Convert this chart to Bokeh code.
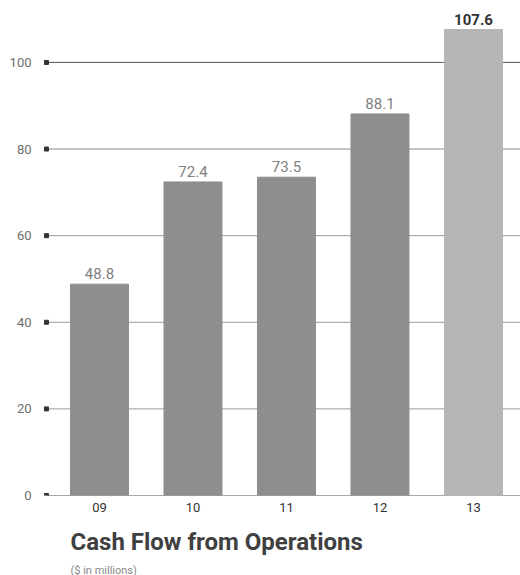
from bokeh.plotting import figure
from bokeh.models import ColumnDataSource, LabelSet, Range1d, FixedTicker, Title
from bokeh.core.properties import value
from bokeh.embed import file_html
from bokeh.resources import INLINE

# Cash flow from operations, $ millions, fiscal years 09-13
years = ["09", "10", "11", "12", "13"]
cash_flow = [48.8, 72.4, 73.5, 88.1, 107.6]
bar_colors = ["#8e8e8e", "#8e8e8e", "#8e8e8e", "#8e8e8e", "#b6b6b6"]
label_colors = ["#808080", "#808080", "#808080", "#808080", "#333333"]
label_styles = ["normal", "normal", "normal", "normal", "bold"]
y_ticks = [0, 20, 40, 60, 80, 100]

xs = list(range(len(years)))
src = ColumnDataSource(dict(
    x=xs, top=cash_flow, color=bar_colors,
    label=[f"{v:.1f}" for v in cash_flow],
    lcolor=label_colors, lstyle=label_styles,
))

p = figure(width=520, height=575, output_backend="svg", toolbar_location=None,
           x_range=Range1d(-0.652, 4.503), y_range=Range1d(0, 114.3),
           min_border_left=38, min_border_right=0, min_border_top=0,
           min_border_bottom=80)
p.outline_line_color = None
p.grid.visible = False
p.background_fill_color = "white"
p.border_fill_color = "white"

# horizontal rules starting at the small square markers
marker_x = -0.567
grid_colors = ["#555555", "#9a9a9a", "#9a9a9a", "#9a9a9a", "#8a8a8a", "#555555"]
p.segment(x0=[marker_x] * len(y_ticks), x1=[4.6] * len(y_ticks),
          y0=y_ticks, y1=y_ticks, line_color=grid_colors, line_width=1)
p.scatter(x=[marker_x] * len(y_ticks), y=y_ticks, marker="square", size=4,
          color="#333333")

p.vbar(x="x", top="top", width=0.62, bottom=0, color="color", source=src)

p.add_layout(LabelSet(x="x", y="top", text="label", source=src,
                      text_align="center", text_baseline="bottom", y_offset=5,
                      text_font_size=value("15px"), text_color="lcolor",
                      text_font_style="lstyle", text_font=value("Roboto")))

# axes
p.xaxis.ticker = FixedTicker(ticks=xs)
p.xaxis.major_label_overrides = {i: y for i, y in enumerate(years)}
p.xaxis.axis_line_color = None
p.xaxis.major_tick_line_color = None
p.xaxis.minor_tick_line_color = None
p.xaxis.major_label_standoff = 1
p.xaxis.major_label_text_font = "Roboto"
p.xaxis.major_label_text_font_size = "13px"
p.xaxis.major_label_text_color = "#333333"

p.yaxis.ticker = FixedTicker(ticks=y_ticks)
p.yaxis.axis_line_color = None
p.yaxis.major_tick_line_color = None
p.yaxis.minor_tick_line_color = None
p.yaxis.major_label_standoff = 1
p.yaxis.major_label_text_font = "Roboto"
p.yaxis.major_label_text_font_size = "13px"
p.yaxis.major_label_text_color = "#707070"

# chart title and unit note below the plot area
p.add_layout(Title(text="Cash Flow from Operations", align="left", offset=32,
                   text_font="Roboto", text_font_style="bold",
                   text_font_size="24px", text_color="#404040",
                   standoff=23), "below")
p.add_layout(Title(text="($ in millions)", align="left", offset=32,
                   text_font="Roboto", text_font_style="normal",
                   text_font_size="11px", text_color="#888888",
                   standoff=-12), "below")

open("out.html", "w").write(file_html(p, INLINE))
